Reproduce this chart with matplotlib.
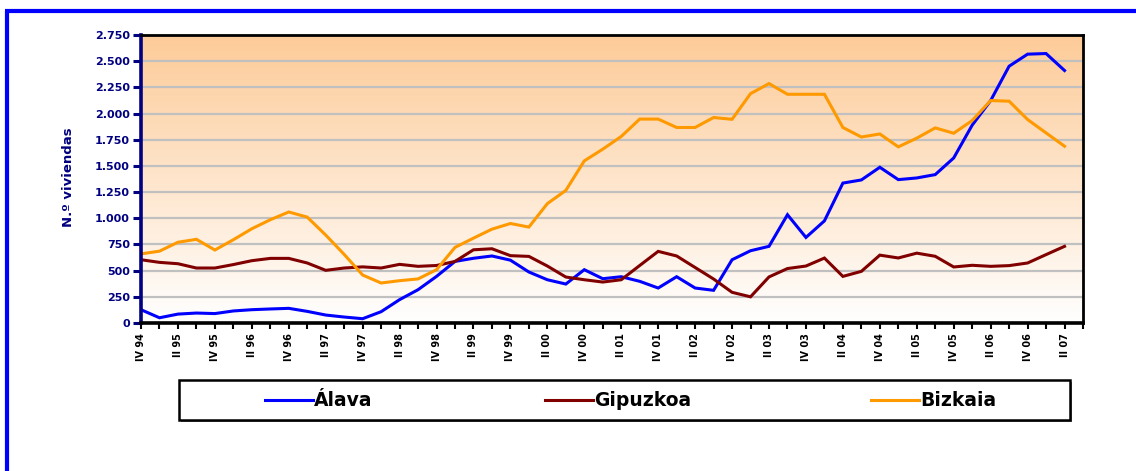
import numpy as np
import matplotlib
matplotlib.use("Agg")
import matplotlib.pyplot as plt
from matplotlib.ticker import FuncFormatter, FixedLocator
from matplotlib.lines import Line2D
from matplotlib.patches import Rectangle

# ---------------- data ----------------
tick_labels = ["IV 94", "II 95", "IV 95", "II 96", "IV 96", "II 97", "IV 97", "II 98",
               "IV 98", "II 99", "IV 99", "II 00", "IV 00", "II 01", "IV 01", "II 02",
               "IV 02", "II 03", "IV 03", "II 04", "IV 04", "II 05", "IV 05", "II 06",
               "IV 06", "II 07"]

alava = [127, 50, 85, 95, 90, 115, 127, 134, 140, 111, 76, 57, 41, 108, 223, 318, 445,
         588, 618, 640, 600, 487, 413, 372, 509, 423, 442, 398, 334, 442, 334, 312, 604,
         690, 732, 1034, 817, 975, 1336, 1366, 1487, 1369, 1385, 1417, 1576, 1889, 2124,
         2452, 2567, 2573, 2411]

gipuzkoa = [604, 579, 566, 525, 525, 558, 595, 617, 617, 573, 503, 525, 536, 525, 560,
            541, 549, 588, 699, 709, 643, 636, 544, 439, 413, 391, 413, 549, 684, 640, 530,
            420, 293, 250, 440, 520, 544, 620, 445, 493, 648, 621, 667, 637, 535, 551, 541,
            548, 573, 653, 732]

bizkaia = [660, 686, 771, 799, 697, 795, 900, 986, 1060, 1011, 840, 655, 458, 382, 404,
           421, 509, 722, 810, 896, 950, 916, 1140, 1266, 1548, 1660, 1781, 1947, 1947,
           1867, 1867, 1962, 1945, 2190, 2286, 2184, 2184, 2184, 1867, 1776, 1805, 1682,
           1765, 1863, 1812, 1933, 2124, 2118, 1943, 1815, 1688]

series_names = ["Álava", "Gipuzkoa", "Bizkaia"]
series_colors = ["#0000FF", "#800000", "#FF9900"]
y_label = "N.º viviendas"

# ---------------- figure ----------------
W, H = 1136, 471
fig = plt.figure(figsize=(W / 100, H / 100), dpi=100)
fig.patch.set_facecolor("white")

def fx(px):
    return px / W

def fy(py):
    return 1 - py / H

left, right, top, bottom = 141, 1083, 35, 323
ax = fig.add_axes([fx(left), fy(bottom), fx(right - left), (bottom - top) / H])

n_cat = len(alava) + 1
x = np.arange(len(alava))
ymax = 2750

# gradient background
grad = np.linspace(0, 1, 256).reshape(-1, 1)
top_c = np.array([253, 203, 152]) / 255
bot_c = np.array([255, 255, 255]) / 255
img = bot_c[None, None, :] * (1 - grad[:, :, None]) + top_c[None, None, :] * grad[:, :, None]
ax.imshow(img, extent=[0, n_cat - 1, 0, ymax], origin="lower", aspect="auto", zorder=0)

series = [alava, gipuzkoa, bizkaia]
for vals, c in zip(series, series_colors):
    ax.plot(x, vals, color=c, lw=2.2, zorder=3, solid_joinstyle="miter")

ax.set_xlim(0, n_cat - 1)
ax.set_ylim(0, ymax)

# grid
ax.set_yticks(np.arange(0, ymax + 1, 250))
ax.yaxis.grid(True, color="#C0C0C0", lw=1.6, zorder=1)
ax.set_axisbelow(False)
for gl in ax.get_ygridlines():
    gl.set_zorder(1)

ax.yaxis.set_major_formatter(FuncFormatter(lambda v, p: f"{int(v):,}".replace(",", ".")))
navy = "#000080"
ax.tick_params(axis="y", colors=navy, labelcolor=navy, length=6, width=2.2, direction="out",
               labelsize=8, pad=2)
for t in ax.get_yticklabels():
    t.set_fontweight("bold")

# x ticks at every category, labels every second
ax.xaxis.set_major_locator(FixedLocator(np.arange(0, n_cat)))
labels_all = []
k = 0
for i in range(n_cat):
    if i % 2 == 0 and k < len(tick_labels):
        labels_all.append(tick_labels[k])
        k += 1
    else:
        labels_all.append("")
ax.set_xticklabels(labels_all, rotation=90, fontsize=7, fontweight="bold", color="black")
ax.tick_params(axis="x", length=4, width=1.5, color="black", pad=3)

# spines
ax.spines["left"].set_color(navy)
ax.spines["left"].set_linewidth(2.6)
ax.spines["bottom"].set_color("black")
ax.spines["bottom"].set_linewidth(2.6)
ax.spines["top"].set_color("black")
ax.spines["top"].set_linewidth(2.0)
ax.spines["right"].set_color("black")
ax.spines["right"].set_linewidth(2.0)
for s in ax.spines.values():
    s.set_zorder(5)

fig.text(fx(68), fy(177), y_label, rotation=90, color=navy, fontsize=9.5, fontweight="bold",
         ha="center", va="center")

# legend box (manual)
lg_l, lg_r, lg_t, lg_b = 179, 1070, 380, 420
fig.patches.append(Rectangle((fx(lg_l + 2), fy(lg_b + 2)), fx(lg_r - lg_l), (lg_b - lg_t) / H,
                             transform=fig.transFigure, facecolor="#808080", edgecolor="none",
                             zorder=1))
fig.patches.append(Rectangle((fx(lg_l), fy(lg_b)), fx(lg_r - lg_l), (lg_b - lg_t) / H,
                             transform=fig.transFigure, facecolor="white", edgecolor="black",
                             lw=1.8, zorder=2))
entry_x = [265, 545, 871]
ly = fy(400)
for name, c, ex in zip(series_names, series_colors, entry_x):
    fig.lines.append(Line2D([fx(ex), fx(ex + 48)], [ly, ly], transform=fig.transFigure,
                            color=c, lw=2.2, zorder=3))
    fig.text(fx(ex + 49), ly, name, fontsize=13.5, fontweight="bold", color="black",
             ha="left", va="center", zorder=4)

# outer blue frame (left and top)
fig.lines.append(Line2D([fx(7), fx(7)], [fy(11), 0], transform=fig.transFigure,
                        color="#0000FF", lw=3, solid_capstyle="butt"))
fig.lines.append(Line2D([fx(5), 1], [fy(11), fy(11)], transform=fig.transFigure,
                        color="#0000FF", lw=3, solid_capstyle="butt"))

fig.savefig("out.png", dpi=100, facecolor="white")
